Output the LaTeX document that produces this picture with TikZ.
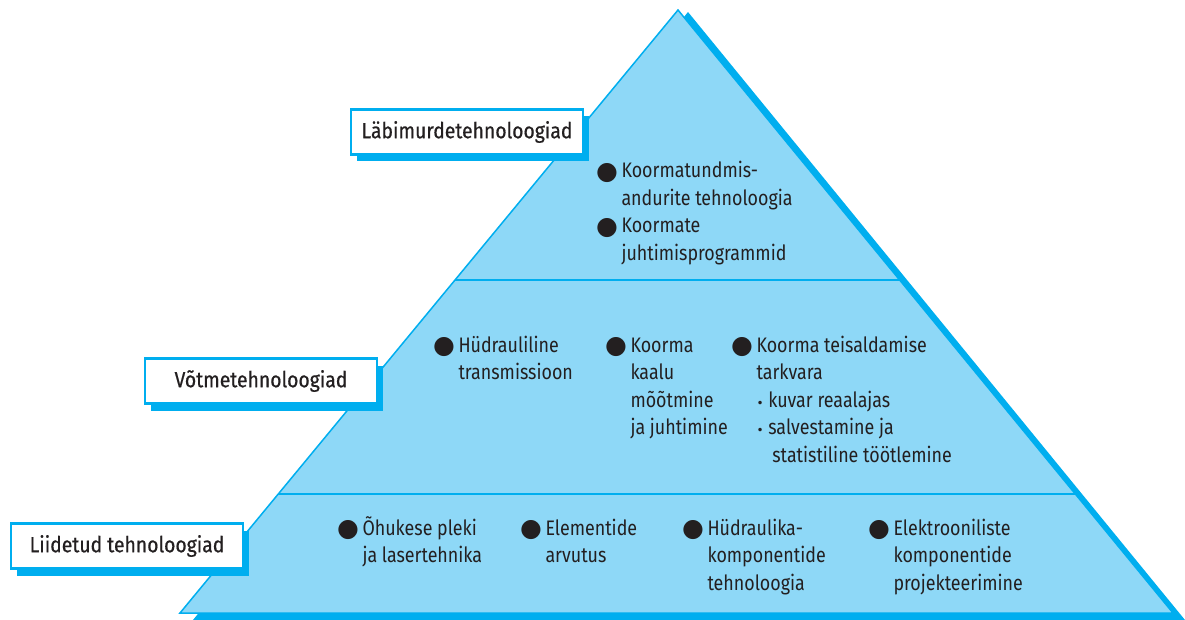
\documentclass[tikz,border=0pt]{standalone}
\usepackage{fontspec}
\setmainfont{Fira Sans}[FakeStretch=0.85]
\newfontfamily\headfont{Fira Sans}[FakeStretch=0.88,FakeBold=0.6]
\newfontfamily\symfont{DejaVu Sans}
\usetikzlibrary{calc,shadows}
\definecolor{pyrfill}{HTML}{8ED8F7}
\definecolor{pyrcyan}{HTML}{00AEEF}
\definecolor{pyrtext}{HTML}{231F20}
\newcommand\bigdot{\raisebox{-1.2pt}{\symfont\fontsize{25}{25}\selectfont ●}}
\newcommand\smalldot{{\symfont\fontsize{12}{12}\selectfont •}}
\newcommand\entry[1]{\begin{tabular}[t]{@{}l@{\hspace{3.5pt}}l@{}}#1\end{tabular}}
\tikzset{
  box/.style={draw=pyrcyan,line width=2.5pt,fill=white,minimum width=232pt,
    minimum height=45pt,text=pyrtext,font=\headfont\fontsize{22}{26}\selectfont,
    drop shadow={shadow xshift=6pt,shadow yshift=-7pt,fill=pyrcyan,opacity=1}},
  itm/.style={anchor=base west,inner sep=0pt,text=pyrtext,
    font=\fontsize{21}{27.5}\selectfont},
  divider/.style={draw=pyrcyan,line width=1.5pt}
}

\begin{document}
\begin{tikzpicture}[x=1pt,y=-1pt]
      \useasboundingbox (0,0) rectangle (1185,620);
      % pyramid and its shadow
      \coordinate (apex) at (678,10);
      \coordinate (bl) at (180,613);
      \coordinate (br) at (1173,613);
      \fill[pyrcyan] (688,12) -- (1185,620) -- (193,620) -- cycle;
      \filldraw[fill=pyrfill,draw=pyrcyan,line width=1.5pt] (apex) -- (br) -- (bl) -- cycle;
      \draw[divider] ($(apex)!0.448!(bl)$) -- ($(apex)!0.448!(br)$);
      \draw[divider] ($(apex)!0.8027!(bl)$) -- ($(apex)!0.8027!(br)$);
      % level labels
      \node[box] (top) at (467,132) {Läbimurdetehnoloogiad};
      \node[box] (mid) at (261,381) {Võtmetehnoloogiad};
      \node[box] (low) at (127,546) {Liidetud tehnoloogiad};
      % top level
      \node[itm] (k1) at (596,178) {\entry{\bigdot & Koormatundmis-\\ & andurite tehnoloogia}};
      \node[itm] (k2) at (596,233) {\entry{\bigdot & Koormate\\ & juhtimisprogrammid}};
      % middle level
      \node[itm] (v1) at (433,352) {\entry{\bigdot & Hüdrauliline\\ & transmissioon}};
      \node[itm] (v2) at (605,352) {\entry{\bigdot & Koorma\\ & kaalu\\ & mõõtmine\\ & ja juhtimine}};
      \node[itm] (v3) at (731,352) {\entry{\bigdot & Koorma teisaldamise\\ & tarkvara\\
        & \smalldot\ kuvar reaalajas\\ & \smalldot\ salvestamine ja\\
        & \hspace*{4pt}\phantom{\smalldot\ }statistiline töötlemine}};
      % bottom level
      \node[itm] (l1) at (337,535) {\entry{\bigdot & Õhukese pleki\\ & ja lasertehnika}};
      \node[itm] (l2) at (520,535) {\entry{\bigdot & Elementide\\ & arvutus}};
      \node[itm] (l3) at (682,535) {\entry{\bigdot & Hüdraulika-\\ & komponentide\\ & tehnoloogia}};
      \node[itm] (l4) at (868,535) {\entry{\bigdot & Elektrooniliste\\ & komponentide\\ & projekteerimine}};
\end{tikzpicture}
\end{document}
